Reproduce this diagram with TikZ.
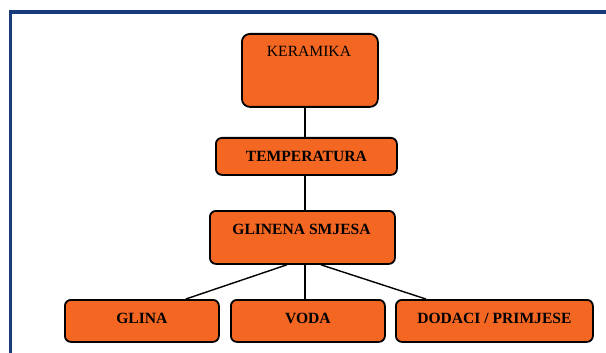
\documentclass[tikz,border=0pt]{standalone}
\usepackage{fontspec}
\setmainfont{Liberation Serif}
\usetikzlibrary{calc}
\definecolor{boxorange}{RGB}{243,103,34}
\definecolor{frameblue}{RGB}{24,60,122}
\begin{document}
\begin{tikzpicture}[x=1pt,y=-1pt,
  box/.style={draw=black,line width=1.8pt,fill=boxorange,rounded corners=6pt,inner sep=0pt,anchor=north west},
  boxtext/.style={font=\fontsize{15.6}{18}\selectfont\bfseries,inner sep=0pt},
  link/.style={draw=black,line width=1.4pt}]
\useasboundingbox (0,0) rectangle (606,353);
\fill[white] (0,0) rectangle (606,353);
% frame
\draw[frameblue,line width=3.2pt] (10.5,360) -- (10.5,12) -- (612,12);
% boxes
\node[box,rounded corners=8pt,minimum width=136pt,minimum height=73pt] (ker) at (241,33) {};
\node[box,minimum width=181pt,minimum height=37pt] (temp) at (215,137) {};
\node[box,minimum width=185pt,minimum height=53pt] (gs) at (209,210) {};
\node[box,minimum width=154pt,minimum height=42pt] (glina) at (64,299) {};
\node[box,minimum width=154pt,minimum height=42pt] (voda) at (230,299) {};
\node[box,minimum width=197pt,minimum height=42pt] (dod) at (395,299) {};
% texts
\node[boxtext,font=\fontsize{15.6}{18}\selectfont] (kert) at (309,51) {KERAMIKA};
\node[boxtext] (tempt) at (temp.center) {TEMPERATURA};
\node[boxtext] (gst) at (301.5,229) {GLINENA SMJESA};
\node[boxtext] (glinat) at ($(glina.center)+(0,-2)$) {GLINA};
\node[boxtext] (vodat) at ($(voda.center)+(0,-2)$) {VODA};
\node[boxtext] (dodt) at ($(dod.center)+(0,-2)$) {DODACI / PRIMJESE};
% connectors
\draw[link] (ker.south -| 305,0) -- (temp.north -| 305,0);
\draw[link] (temp.south -| 305,0) -- (gs.north -| 305,0);
\draw[link] ($(gs.south)+(-15.5,0)$) -- ($(glina.north)+(44,0)$);
\draw[link] (gs.south -| 305,0) -- (voda.north -| 305,0);
\draw[link] ($(gs.south)+(18.5,0)$) -- ($(dod.north)+(-68.5,0)$);
\end{tikzpicture}
\end{document}
